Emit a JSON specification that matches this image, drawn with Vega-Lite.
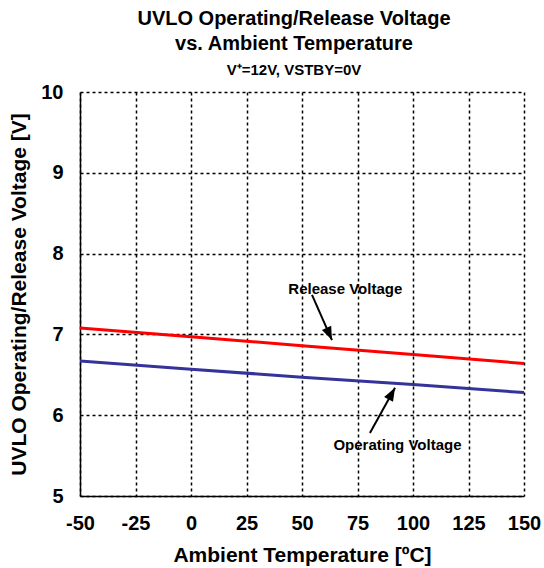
{
  "$schema": "https://vega.github.io/schema/vega-lite/v6.json",
  "width": 444,
  "height": 404,
  "autosize": "none",
  "padding": {"left": 80, "top": 92, "right": 20, "bottom": 72},
  "background": "white",
  "title": {
    "text": ["UVLO Operating/Release Voltage", "vs. Ambient Temperature"],
    "subtitle": "V⁺=12V, VSTBY=0V",
    "anchor": "middle",
    "dx": -8,
    "offset": 4,
    "fontSize": 20,
    "lineHeight": 25,
    "font": "Liberation Sans",
    "fontWeight": "bold",
    "subtitleFont": "Liberation Sans",
    "subtitleFontWeight": "bold",
    "subtitleFontSize": 15,
    "subtitlePadding": 9,
    "color": "black",
    "subtitleColor": "black"
  },
  "config": {
    "font": "Liberation Sans",
    "view": {"stroke": null},
    "axis": {
      "labelFont": "Liberation Sans",
      "labelFontWeight": "bold",
      "labelFontSize": 20,
      "labelColor": "black",
      "labelFlush": false,
      "labelExpr": "datum.value + ''",
      "titleFont": "Liberation Sans",
      "titleFontWeight": "bold",
      "titleFontSize": 21,
      "titleColor": "black",
      "domainColor": "black",
      "domainWidth": 1.5,
      "ticks": false,
      "grid": true,
      "gridColor": "black",
      "gridDash": [3, 3],
      "gridWidth": 1.5,
      "gridOpacity": 1
    }
  },
  "datasets": {
    "curves": [
      {"temp": -50, "voltage": 7.08, "series": "Release Voltage"},
      {"temp": 0, "voltage": 6.97, "series": "Release Voltage"},
      {"temp": 50, "voltage": 6.86, "series": "Release Voltage"},
      {"temp": 100, "voltage": 6.75, "series": "Release Voltage"},
      {"temp": 150, "voltage": 6.64, "series": "Release Voltage"},
      {"temp": -50, "voltage": 6.67, "series": "Operating Voltage"},
      {"temp": 0, "voltage": 6.57, "series": "Operating Voltage"},
      {"temp": 50, "voltage": 6.47, "series": "Operating Voltage"},
      {"temp": 100, "voltage": 6.38, "series": "Operating Voltage"},
      {"temp": 150, "voltage": 6.28, "series": "Operating Voltage"}
    ],
    "labels": [
      {"temp": 69.5, "voltage": 7.56, "label": "Release Voltage"},
      {"temp": 93, "voltage": 5.63, "label": "Operating Voltage"}
    ],
    "arrows": [
      {"t1": 54.5, "v1": 7.49, "t2": 63.5, "v2": 6.93, "angle": 156},
      {"t1": 80.6, "v1": 5.78, "t2": 91.9, "v2": 6.34, "angle": 29}
    ]
  },
  "layer": [
    {
      "data": {"name": "curves"},
      "mark": {"type": "line", "strokeWidth": 3},
      "encoding": {
        "x": {
          "field": "temp",
          "type": "quantitative",
          "scale": {"domain": [-50, 150], "nice": false},
          "axis": {
            "title": "Ambient Temperature [ºC]",
            "values": [-50, -25, 0, 25, 50, 75, 100, 125, 150],
            "labelPadding": 17,
            "titlePadding": 11
          }
        },
        "y": {
          "field": "voltage",
          "type": "quantitative",
          "scale": {"domain": [5, 10], "nice": false, "zero": false},
          "axis": {
            "title": "UVLO Operating/Release Voltage [V]",
            "values": [5, 6, 7, 8, 9, 10],
            "labelPadding": 17,
            "titlePadding": 11
          }
        },
        "color": {
          "field": "series",
          "type": "nominal",
          "scale": {"domain": ["Release Voltage", "Operating Voltage"], "range": ["#FF0000", "#333399"]},
          "legend": null
        }
      }
    },
    {
      "data": {"name": "arrows"},
      "mark": {"type": "rule", "strokeWidth": 2, "color": "black"},
      "encoding": {
        "x": {"field": "t1", "type": "quantitative"},
        "y": {"field": "v1", "type": "quantitative"},
        "x2": {"field": "t2"},
        "y2": {"field": "v2"}
      }
    },
    {
      "data": {"name": "arrows"},
      "mark": {"type": "point", "shape": "M0,0L-0.8,2.1L0.8,2.1Z", "filled": true, "color": "black", "opacity": 1, "size": 160},
      "encoding": {
        "x": {"field": "t2", "type": "quantitative"},
        "y": {"field": "v2", "type": "quantitative"},
        "angle": {"field": "angle", "type": "quantitative", "scale": null}
      }
    },
    {
      "data": {"name": "labels"},
      "mark": {"type": "text", "font": "Liberation Sans", "fontWeight": "bold", "fontSize": 15, "color": "black"},
      "encoding": {
        "x": {"field": "temp", "type": "quantitative"},
        "y": {"field": "voltage", "type": "quantitative"},
        "text": {"field": "label", "type": "nominal"}
      }
    }
  ]
}
